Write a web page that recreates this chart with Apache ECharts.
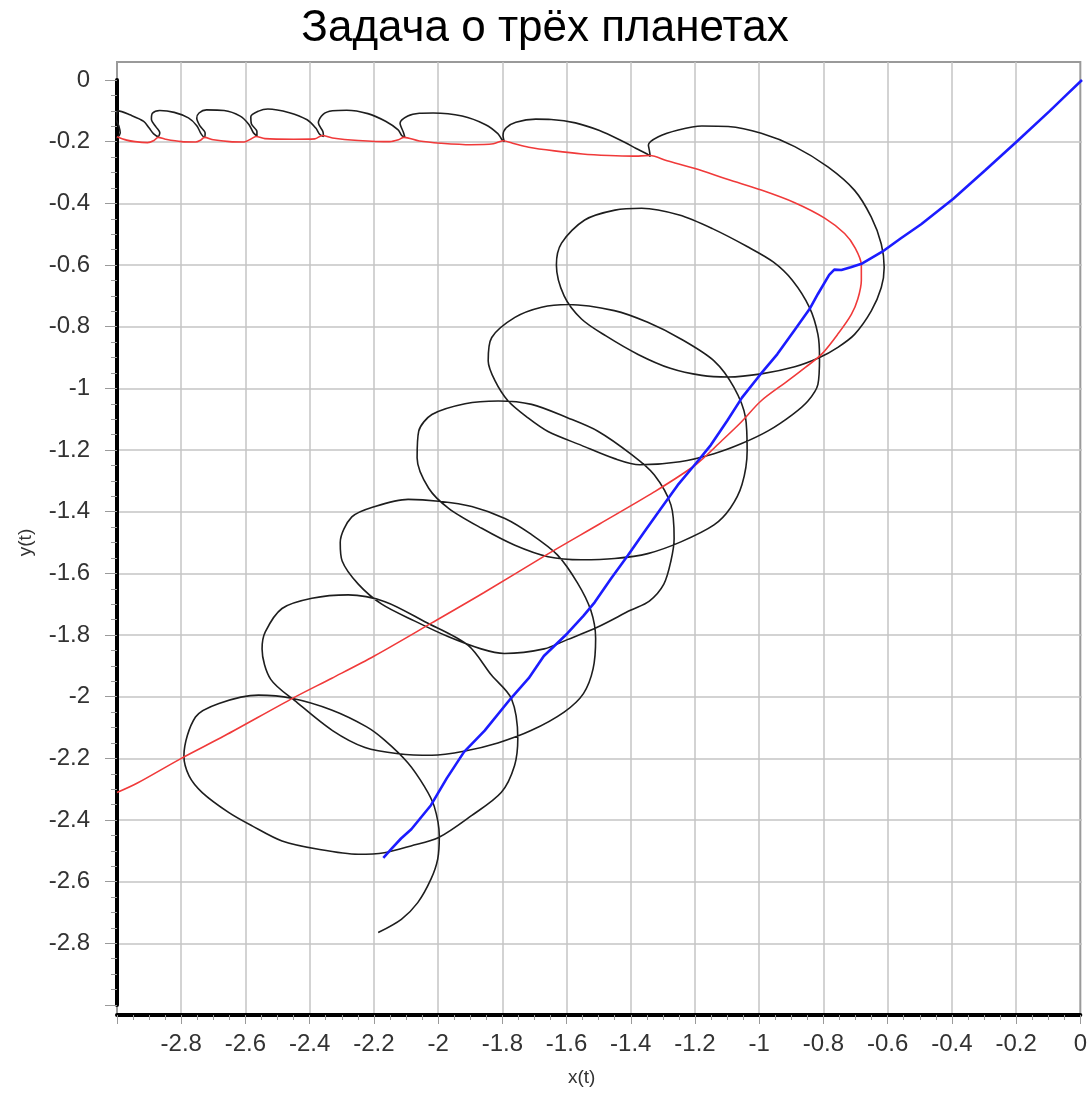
<!DOCTYPE html>
<html>
<head>
<meta charset="utf-8">
<title>Задача о трёх планетах</title>
<script src="https://cdn.jsdelivr.net/npm/echarts@6/dist/echarts.min.js"></script>
<style>
  html, body { margin: 0; padding: 0; background: #fff; }
  #chart { width: 1090px; height: 1093px; }
</style>
</head>
<body>
<div id="chart"></div>
<script>
// Axis ranges and tick step
const X_MIN = -3, X_MAX = 0;
const Y_MIN = -3, Y_MAX = 0;
const STEP = 0.2;

// Trajectory of the third (black) planet, [x, y]
const blackPath = [
  [-3.03, -0.2], [-3.0, -0.186], [-2.99, -0.172], [-2.994, -0.15], [-3.003, -0.125], [-2.996, -0.1],
  [-2.96, -0.113], [-2.917, -0.134], [-2.9, -0.156], [-2.886, -0.175], [-2.872, -0.183],
  [-2.867, -0.171], [-2.879, -0.152], [-2.893, -0.127], [-2.89, -0.108], [-2.867, -0.099],
  [-2.822, -0.105], [-2.778, -0.123], [-2.752, -0.148], [-2.739, -0.174], [-2.728, -0.186],
  [-2.726, -0.172], [-2.742, -0.149], [-2.752, -0.124], [-2.745, -0.107], [-2.722, -0.097],
  [-2.667, -0.099], [-2.617, -0.117], [-2.59, -0.144], [-2.576, -0.171], [-2.565, -0.182],
  [-2.565, -0.167], [-2.582, -0.143], [-2.584, -0.119], [-2.56, -0.101], [-2.531, -0.094],
  [-2.464, -0.106], [-2.409, -0.129], [-2.382, -0.156], [-2.37, -0.176], [-2.358, -0.183],
  [-2.36, -0.167], [-2.374, -0.139], [-2.36, -0.112], [-2.33, -0.1], [-2.286, -0.098],
  [-2.22, -0.109], [-2.165, -0.134], [-2.126, -0.162], [-2.115, -0.18], [-2.105, -0.186],
  [-2.11, -0.169], [-2.12, -0.14], [-2.096, -0.117], [-2.06, -0.108], [-2.017, -0.107],
  [-1.927, -0.117], [-1.854, -0.145], [-1.816, -0.174], [-1.803, -0.194], [-1.796, -0.2],
  [-1.8, -0.18], [-1.79, -0.155], [-1.76, -0.137], [-1.698, -0.127], [-1.65, -0.128],
  [-1.575, -0.139], [-1.5, -0.164], [-1.43, -0.198], [-1.386, -0.222], [-1.352, -0.24], [-1.342, -0.248],
  [-1.345, -0.228], [-1.348, -0.211], [-1.317, -0.184], [-1.255, -0.162], [-1.182, -0.149],
  [-1.1, -0.151], [-0.997, -0.173], [-0.893, -0.216], [-0.79, -0.282], [-0.707, -0.358],
  [-0.655, -0.445], [-0.624, -0.532], [-0.615, -0.608], [-0.624, -0.673], [-0.655, -0.749],
  [-0.707, -0.825], [-0.759, -0.867], [-0.816, -0.9], [-0.893, -0.93], [-0.997, -0.953],
  [-1.1, -0.963], [-1.182, -0.958], [-1.28, -0.935], [-1.38, -0.89], [-1.48, -0.83],
  [-1.556, -0.775], [-1.61, -0.7], [-1.634, -0.6], [-1.618, -0.529], [-1.546, -0.454],
  [-1.452, -0.422], [-1.369, -0.416], [-1.252, -0.438], [-1.149, -0.482], [-1.041, -0.54],
  [-0.96, -0.59], [-0.9, -0.65], [-0.847, -0.738], [-0.821, -0.825], [-0.816, -0.9],
  [-0.821, -0.987], [-0.852, -1.041], [-0.9, -1.085], [-0.976, -1.138], [-1.06, -1.18],
  [-1.144, -1.212], [-1.25, -1.238], [-1.375, -1.248], [-1.453, -1.228], [-1.556, -1.185],
  [-1.66, -1.14], [-1.722, -1.096], [-1.784, -1.041], [-1.825, -0.975], [-1.846, -0.911],
  [-1.835, -0.835], [-1.763, -0.77], [-1.68, -0.737], [-1.598, -0.728], [-1.454, -0.748],
  [-1.35, -0.786], [-1.247, -0.84], [-1.144, -0.911], [-1.082, -0.997], [-1.046, -1.095],
  [-1.041, -1.203], [-1.057, -1.312], [-1.093, -1.388], [-1.144, -1.443], [-1.247, -1.498],
  [-1.35, -1.536], [-1.453, -1.552], [-1.556, -1.556], [-1.66, -1.546], [-1.763, -1.509],
  [-1.866, -1.454], [-1.969, -1.389], [-2.031, -1.324], [-2.067, -1.226], [-2.062, -1.139],
  [-2.021, -1.085], [-1.918, -1.05], [-1.815, -1.041], [-1.711, -1.052], [-1.598, -1.096],
  [-1.505, -1.139], [-1.4, -1.215], [-1.33, -1.28], [-1.278, -1.378], [-1.268, -1.487],
  [-1.278, -1.56], [-1.3, -1.635], [-1.345, -1.69], [-1.404, -1.72], [-1.507, -1.775],
  [-1.6, -1.815], [-1.672, -1.845], [-1.796, -1.86], [-1.868, -1.845], [-1.971, -1.805],
  [-2.074, -1.755], [-2.177, -1.7], [-2.25, -1.635], [-2.3, -1.56], [-2.306, -1.5],
  [-2.27, -1.417], [-2.198, -1.383], [-2.095, -1.36], [-2.0, -1.366], [-1.897, -1.383],
  [-1.794, -1.422], [-1.713, -1.473], [-1.631, -1.54], [-1.569, -1.63], [-1.527, -1.72],
  [-1.512, -1.811], [-1.52, -1.91], [-1.55, -1.99], [-1.61, -2.05], [-1.713, -2.11],
  [-1.816, -2.15], [-1.918, -2.176], [-2.021, -2.19], [-2.125, -2.185], [-2.229, -2.165],
  [-2.33, -2.11], [-2.439, -2.02], [-2.522, -1.944], [-2.549, -1.845], [-2.539, -1.79],
  [-2.487, -1.714], [-2.394, -1.681], [-2.281, -1.67], [-2.167, -1.692], [-2.043, -1.757],
  [-1.909, -1.833], [-1.836, -1.93], [-1.774, -2.006], [-1.754, -2.136], [-1.764, -2.223],
  [-1.805, -2.31], [-1.898, -2.386], [-2.0, -2.457], [-2.086, -2.484], [-2.169, -2.506],
  [-2.25, -2.511], [-2.374, -2.495], [-2.487, -2.468], [-2.58, -2.419], [-2.652, -2.376],
  [-2.735, -2.311], [-2.776, -2.257], [-2.792, -2.192], [-2.756, -2.066], [-2.683, -2.022],
  [-2.56, -1.995], [-2.457, -2.005], [-2.333, -2.043], [-2.225, -2.097], [-2.169, -2.14],
  [-2.096, -2.214], [-2.045, -2.29], [-2.014, -2.355], [-1.998, -2.452], [-2.003, -2.527],
  [-2.024, -2.592], [-2.065, -2.668], [-2.116, -2.722], [-2.188, -2.765]
];

// Trajectory of the red planet, [x, y]
const redPath = [
  [-3.0, -0.184], [-2.97, -0.195], [-2.944, -0.2], [-2.905, -0.203], [-2.885, -0.196],
  [-2.872, -0.186], [-2.85, -0.192], [-2.8, -0.2], [-2.756, -0.201], [-2.74, -0.195],
  [-2.728, -0.186], [-2.7, -0.194], [-2.65, -0.2], [-2.605, -0.201], [-2.585, -0.192],
  [-2.568, -0.183], [-2.54, -0.19], [-2.45, -0.192], [-2.385, -0.191], [-2.362, -0.18],
  [-2.33, -0.188], [-2.25, -0.196], [-2.152, -0.2], [-2.125, -0.194], [-2.108, -0.186],
  [-2.06, -0.198], [-1.994, -0.205], [-1.9, -0.21], [-1.83, -0.207], [-1.8, -0.197],
  [-1.77, -0.205], [-1.72, -0.218], [-1.64, -0.23], [-1.553, -0.24], [-1.47, -0.245],
  [-1.398, -0.247], [-1.343, -0.245], [-1.29, -0.262], [-1.203, -0.287], [-1.1, -0.323],
  [-0.997, -0.357], [-0.893, -0.398], [-0.8, -0.448], [-0.738, -0.498], [-0.705, -0.545],
  [-0.686, -0.6], [-0.686, -0.65], [-0.697, -0.71], [-0.717, -0.76], [-0.759, -0.824],
  [-0.81, -0.89], [-0.86, -0.932], [-0.915, -0.976], [-0.998, -1.041], [-1.06, -1.11],
  [-1.12, -1.17], [-1.2, -1.247], [-1.33, -1.336], [-1.5, -1.44], [-1.66, -1.537],
  [-1.86, -1.663], [-2.02, -1.76], [-2.2, -1.868], [-2.332, -1.94], [-2.45, -2.003],
  [-2.666, -2.127], [-2.8, -2.2], [-2.938, -2.281], [-3.0, -2.311]
];

// Trajectory of the blue planet, [x, y]
const bluePath = [
  [0, 0], [-0.05, -0.05], [-0.1, -0.1], [-0.2, -0.197], [-0.3, -0.292], [-0.4, -0.385],
  [-0.5, -0.468], [-0.564, -0.514], [-0.621, -0.557], [-0.683, -0.595], [-0.719, -0.607],
  [-0.748, -0.616], [-0.77, -0.615], [-0.786, -0.632], [-0.821, -0.694], [-0.847, -0.743],
  [-0.895, -0.813], [-0.947, -0.889], [-1.0, -0.955], [-1.057, -1.03], [-1.103, -1.105],
  [-1.154, -1.184], [-1.2, -1.243], [-1.257, -1.314], [-1.309, -1.39], [-1.361, -1.466],
  [-1.412, -1.542], [-1.464, -1.617], [-1.515, -1.694], [-1.55, -1.738], [-1.6, -1.795],
  [-1.673, -1.868], [-1.72, -1.94], [-1.776, -2.006], [-1.857, -2.11], [-1.921, -2.179],
  [-1.975, -2.265], [-2.024, -2.352], [-2.085, -2.43], [-2.117, -2.46], [-2.147, -2.494],
  [-2.172, -2.523]
];

const FONT = '"Liberation Sans", Arial, sans-serif';

// Outer frame (padded above and below the data range) and the inner data area.
// The frame is 18 px taller above y = 0 and 10 px below y = -3.
const FRAME = { left: 117, right: 8, top: 62, bottom: 78 };
const PLOT = { left: 117, right: 8, top: 80, bottom: 88 };

function tickText(v) {
  const r = Math.round(v * 100) / 100;
  if (Math.abs(r - X_MIN) < 1e-9) return '';
  return String(r === 0 ? 0 : r);
}
function tickTextY(v) {
  const r = Math.round(v * 100) / 100;
  if (Math.abs(r - Y_MIN) < 1e-9) return '';
  return String(r === 0 ? 0 : r);
}

const chart = echarts.init(document.getElementById('chart'), null, { renderer: 'canvas' });

const labelStyle = { fontFamily: FONT, fontSize: 24, color: '#333' };
const gridLine = { color: '#c4c4c4', width: 1.5 };
const tickStyle = { color: '#9a9a9a', width: 1 };

chart.setOption({
  animation: false,
  backgroundColor: '#ffffff',
  title: {
    text: 'Задача о трёх планетах',
    left: 'center',
    top: 2,
    textStyle: { fontFamily: FONT, fontSize: 44, fontWeight: 'normal', color: '#000' }
  },
  grid: [
    Object.assign({ show: true, borderColor: '#9a9a9a', borderWidth: 2, backgroundColor: 'transparent' }, FRAME),
    Object.assign({ show: false }, PLOT)
  ],
  xAxis: [
    {
      gridIndex: 0, type: 'value', min: X_MIN, max: X_MAX, interval: STEP,
      name: 'x(t)', nameLocation: 'middle', nameGap: 53,
      nameTextStyle: { fontFamily: FONT, fontSize: 19, color: '#333', padding: [0, 34, 0, 0] },
      axisLine: { onZero: false, lineStyle: { color: '#000', width: 4 } },
      axisTick: { length: 9, lineStyle: tickStyle },
      minorTick: { show: true, splitNumber: 4, length: 5, lineStyle: tickStyle },
      axisLabel: Object.assign({ margin: 17, formatter: tickText, hideOverlap: false }, labelStyle),
      splitLine: { show: true, showMinLine: false, showMaxLine: false, lineStyle: gridLine }
    },
    { gridIndex: 1, type: 'value', min: X_MIN, max: X_MAX, show: false }
  ],
  yAxis: [
    { gridIndex: 0, type: 'value', min: 0, max: 1, show: false },
    {
      gridIndex: 1, type: 'value', min: Y_MIN, max: Y_MAX, interval: STEP,
      name: 'y(t)', nameLocation: 'middle', nameGap: 82, nameRotate: 90,
      nameTextStyle: { fontFamily: FONT, fontSize: 19, color: '#333' },
      axisLine: { onZero: false, lineStyle: { color: '#000', width: 4 } },
      axisTick: { length: 12, lineStyle: tickStyle },
      minorTick: { show: true, splitNumber: 4, length: 6, lineStyle: tickStyle },
      axisLabel: Object.assign({ margin: 27, formatter: tickTextY, hideOverlap: false }, labelStyle),
      splitLine: { show: true, showMinLine: false, showMaxLine: false, lineStyle: gridLine }
    }
  ],
  series: [
    {
      name: 'planet 3', type: 'line', xAxisIndex: 1, yAxisIndex: 1,
      data: blackPath, symbol: 'none', smooth: 0.3, z: 3,
      lineStyle: { color: '#1e1e1e', width: 1.6 }
    },
    {
      name: 'planet 2', type: 'line', xAxisIndex: 1, yAxisIndex: 1,
      data: redPath, symbol: 'none', smooth: 0.3, z: 4,
      lineStyle: { color: '#f03a3a', width: 1.6 }
    },
    {
      name: 'planet 1', type: 'line', xAxisIndex: 1, yAxisIndex: 1,
      data: bluePath, symbol: 'none', smooth: false, z: 5,
      lineStyle: { color: '#1c1cff', width: 2.6 }
    }
  ]
});
</script>
</body>
</html>
